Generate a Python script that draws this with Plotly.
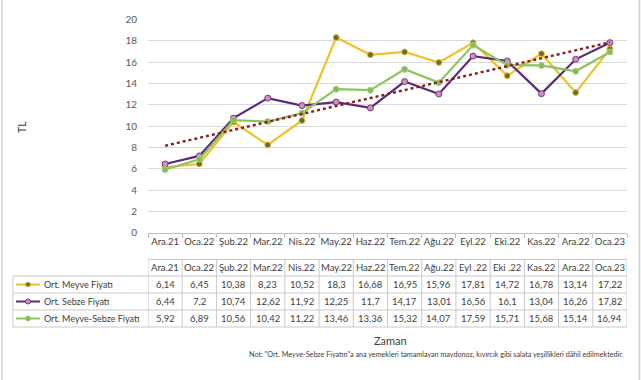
import plotly.graph_objects as go

categories = ["Ara.21", "Oca.22", "Şub.22", "Mar.22", "Nis.22", "May.22", "Haz.22",
              "Tem.22", "Ağu.22", "Eyl.22", "Eki.22", "Kas.22", "Ara.22", "Oca.23"]
header_labels = ["Ara.21", "Oca.22", "Şub.22", "Mar.22", "Nis.22", "May.22", "Haz.22",
                 "Tem.22", "Ağu.22", "Eyl .22", "Eki .22", "Kas.22", "Ara.22", "Oca.23"]
meyve = [6.14, 6.45, 10.38, 8.23, 10.52, 18.3, 16.68, 16.95, 15.96, 17.81, 14.72, 16.78, 13.14, 17.22]
sebze = [6.44, 7.2, 10.74, 12.62, 11.92, 12.25, 11.7, 14.17, 13.01, 16.56, 16.1, 13.04, 16.26, 17.82]
meyve_sebze = [5.92, 6.89, 10.56, 10.42, 11.22, 13.46, 13.36, 15.32, 14.07, 17.59, 15.71, 15.68, 15.14, 16.94]
trend_endpoints = [8.15, 17.85]
series_names = ["Ort. Meyve Fiyatı", "Ort. Sebze Fiyatı", "Ort. Meyve-Sebze Fiyatı"]
y_ticks = [0, 2, 4, 6, 8, 10, 12, 14, 16, 18, 20]

W, H = 641, 380
FONT = "Lato"
TXT = "#404040"
GRID = "#D9D9D9"
BORDER = "#C9C9C9"

def px(x):
    return x / W

def py(y):
    return 1 - y / H

styles = [
    dict(line="#F0C12A", mfill="#6B6A32", mline="#E9C23A"),
    dict(line="#5A2A7D", mfill="#D98CB8", mline="#6A3A8A"),
    dict(line="#8DC462", mfill="#86B95A", mline="#A7D27F"),
]
all_series = [meyve, sebze, meyve_sebze]

fig = go.Figure()
for name, vals, st in zip(series_names, all_series, styles):
    fig.add_trace(go.Scatter(
        x=categories, y=vals, name=name, mode="lines+markers",
        line=dict(color=st["line"], width=2.2),
        marker=dict(size=6, color=st["mfill"], line=dict(color=st["mline"], width=1)),
        showlegend=False, hoverinfo="skip"))

fig.add_trace(go.Scatter(
    x=[categories[0], categories[-1]], y=trend_endpoints, mode="lines",
    line=dict(color="#8E1B1B", width=2.4, dash="dot"), showlegend=False, hoverinfo="skip"))

x0p, x1p = 148, 627
y_top, y_bot = 19.4, 232.7

fig.update_layout(
    width=W, height=H, margin=dict(l=0, r=0, t=0, b=0),
    paper_bgcolor="white", plot_bgcolor="white",
    font=dict(family=FONT, size=10, color=TXT),
    xaxis=dict(domain=[px(x0p), px(x1p)], type="category", categoryorder="array",
               categoryarray=categories, showgrid=False, showline=True, linecolor="#BFBFBF",
               linewidth=1, ticks="outside", tickson="boundaries", ticklen=4,
               tickcolor="#BFBFBF", tickangle=0, automargin=False,
               tickfont=dict(size=9.5, color=TXT, family=FONT),
               range=[-0.5, len(categories) - 0.5], zeroline=False, fixedrange=True),
    yaxis=dict(domain=[py(y_bot), py(y_top)], range=[0, 20], tickvals=y_ticks,
               showgrid=True, gridcolor=GRID, gridwidth=1, zeroline=False, showline=False,
               ticks="", ticklabelstandoff=10, automargin=False,
               tickfont=dict(size=10, color="#595959", family=FONT), fixedrange=True),
)

shapes = []
ann = []

for xb in (2, 639.5):
    shapes.append(dict(type="line", xref="paper", yref="paper", x0=px(xb), x1=px(xb),
                       y0=0, y1=1, line=dict(color="#D0D0D0", width=1.5)))

row_lines = [259.5, 276, 293, 310, 327]
legend_left = 13
n = len(categories)
shapes.append(dict(type="line", xref="paper", yref="paper", x0=px(x0p), x1=px(x1p),
                   y0=py(row_lines[0]), y1=py(row_lines[0]), line=dict(color=BORDER, width=1)))
for yl in row_lines[1:]:
    shapes.append(dict(type="line", xref="paper", yref="paper", x0=px(legend_left), x1=px(x1p),
                       y0=py(yl), y1=py(yl), line=dict(color=BORDER, width=1)))
for i in range(n + 1):
    shapes.append(dict(type="line", xref="x", yref="paper", x0=i - 0.5, x1=i - 0.5,
                       y0=py(row_lines[0]), y1=py(row_lines[-1]), line=dict(color=BORDER, width=1)))
shapes.append(dict(type="line", xref="paper", yref="paper", x0=px(legend_left), x1=px(legend_left),
                   y0=py(row_lines[1]), y1=py(row_lines[-1]), line=dict(color=BORDER, width=1)))

hy = (row_lines[0] + row_lines[1]) / 2
for c, lab in zip(categories, header_labels):
    ann.append(dict(x=c, xref="x", y=py(hy), yref="paper", text=lab, showarrow=False,
                    font=dict(size=9.5, color=TXT, family=FONT), xanchor="center", yanchor="middle"))

for r, (name, vals, st) in enumerate(zip(series_names, all_series, styles)):
    yc = (row_lines[r + 1] + row_lines[r + 2]) / 2
    for c, v in zip(categories, vals):
        ann.append(dict(x=c, xref="x", y=py(yc), yref="paper",
                        text=f"{v:g}".replace(".", ","), showarrow=False,
                        font=dict(size=9.5, color=TXT, family=FONT), xanchor="center", yanchor="middle"))
    shapes.append(dict(type="line", xref="paper", yref="paper", x0=px(16), x1=px(40),
                       y0=py(yc), y1=py(yc), line=dict(color=st["line"], width=2)))
    shapes.append(dict(type="circle", xref="paper", yref="paper", xsizemode="pixel",
                       ysizemode="pixel", xanchor=px(28), yanchor=py(yc),
                       x0=-2.5, x1=2.5, y0=-2.5, y1=2.5,
                       fillcolor=st["mfill"], line=dict(color=st["mline"], width=1)))
    ann.append(dict(x=px(42), xref="paper", y=py(yc), yref="paper", text=name, showarrow=False,
                    font=dict(size=9, color=TXT, family=FONT), xanchor="left", yanchor="middle"))

ann.append(dict(x=px(390), y=py(340), xref="paper", yref="paper", text="Zaman", showarrow=False,
                font=dict(size=11, color=TXT, family=FONT), xanchor="center", yanchor="middle"))
ann.append(dict(x=px(22), y=py(127), xref="paper", yref="paper", text="TL", showarrow=False,
                textangle=-90, font=dict(size=10.5, color=TXT, family=FONT),
                xanchor="center", yanchor="middle"))
ann.append(dict(x=px(626), y=py(354), xref="paper", yref="paper",
                text="Not: \"Ort. Meyve-Sebze Fiyatın\"a ana yemekleri tamamlayan maydonoz, kıvırcık gibi salata yeşillikleri dâhil edilmektedir.",
                showarrow=False, font=dict(size=7.2, color=TXT, family=FONT),
                xanchor="right", yanchor="middle"))

fig.update_layout(shapes=shapes, annotations=ann)
fig.write_html("out.html", config={"displayModeBar": False, "staticPlot": True},
               post_script="document.body.style.margin='0';document.body.style.overflow='hidden';")
